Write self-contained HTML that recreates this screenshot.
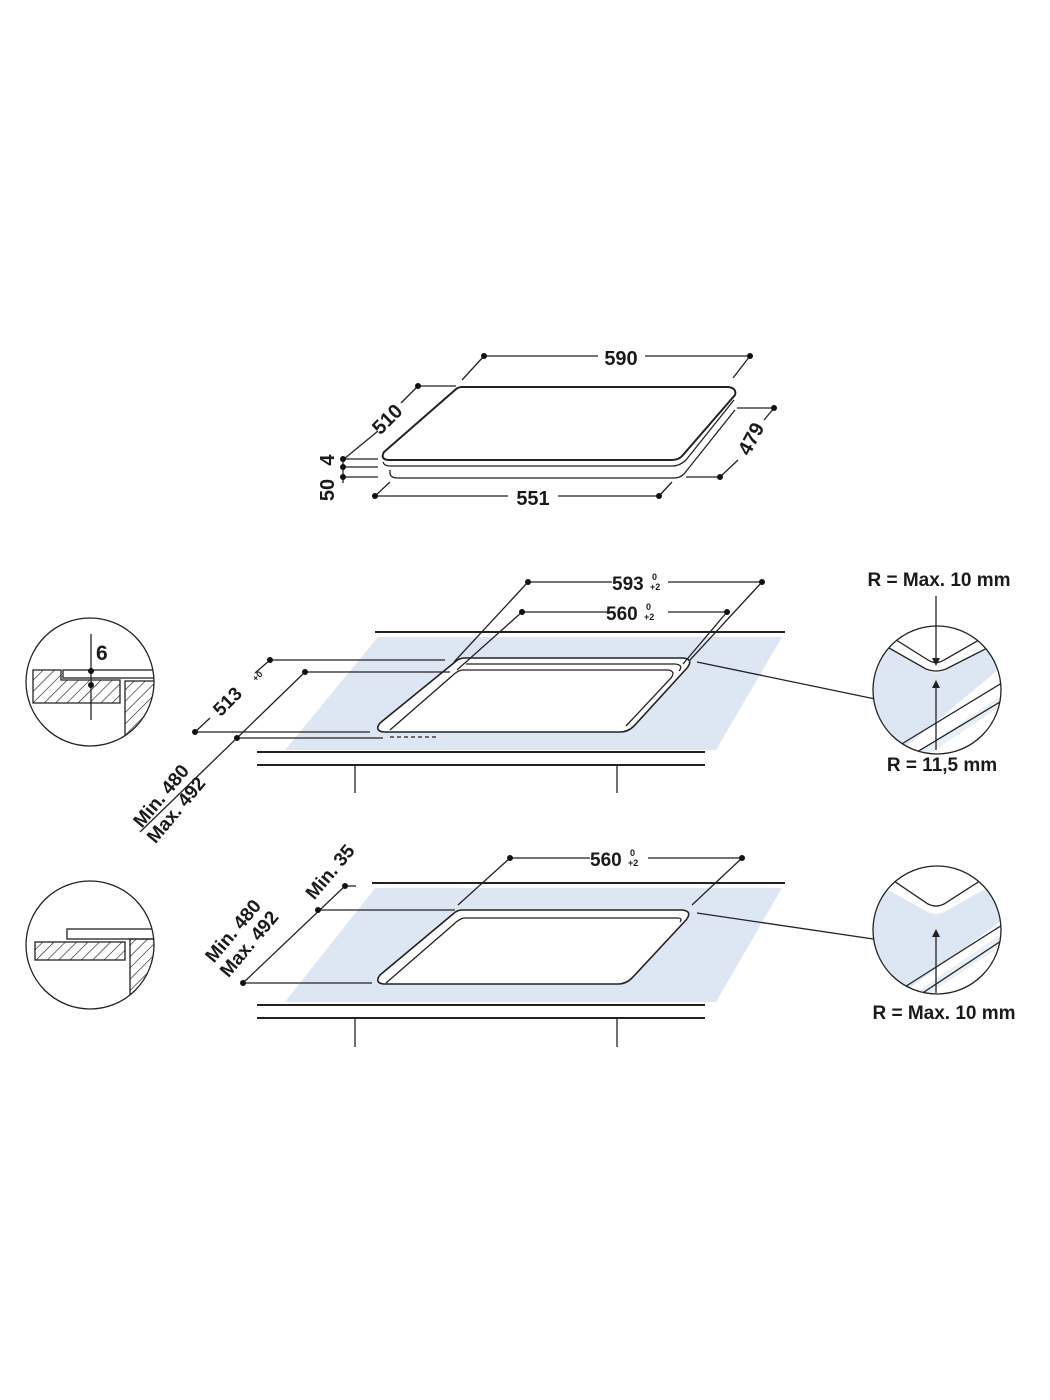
<!DOCTYPE html>
<html><head><meta charset="utf-8"><style>
html,body{margin:0;padding:0;background:#fff;}
svg{display:block;}
text{font-family:"Liberation Sans",Arial,sans-serif;font-weight:bold;fill:#1a1a1a;}
</style></head><body>
<svg width="1050" height="1400" viewBox="0 0 1050 1400" xmlns="http://www.w3.org/2000/svg">
<defs>
<pattern id="h" width="8" height="8" patternUnits="userSpaceOnUse" patternTransform="rotate(45)">
<line x1="0" y1="0" x2="0" y2="8" stroke="#222" stroke-width="1.3"/></pattern>
<clipPath id="c1"><circle cx="90" cy="682" r="64"/></clipPath>
<clipPath id="c2"><circle cx="90" cy="945" r="64"/></clipPath>
<clipPath id="c3"><circle cx="937" cy="690" r="64"/></clipPath>
<clipPath id="c4"><circle cx="937" cy="930" r="64"/></clipPath>
</defs>
<g stroke="#222" stroke-width="1.3" fill="none">
<!-- TOP HOB -->
<path d="M462,387 L728,387 Q737,388 735,395 L683,455 Q679,460 672,460 L388,460 Q380,459 384,452 L455,390 Q458,387 462,387 Z" stroke-width="2"/>
<path d="M383,462 Q384,466 390,466 L672,466 Q680,466 686,460 L734,400"/>
<path d="M390,470 L390,474 Q391,478 398,478 L674,478 Q680,478 684,474 L735,410"/>
<line x1="484" y1="356" x2="598" y2="356"/><line x1="645" y1="356" x2="750" y2="356"/>
<line x1="484" y1="356" x2="462" y2="380"/><line x1="750" y1="356" x2="733" y2="378"/>
<line x1="418" y1="386" x2="456" y2="386"/>
<line x1="418" y1="386" x2="401" y2="403"/><line x1="378" y1="431" x2="344" y2="459"/>
<line x1="343" y1="459" x2="343" y2="483"/>
<line x1="343" y1="459" x2="378" y2="459"/><line x1="343" y1="467" x2="378" y2="467"/><line x1="343" y1="477" x2="378" y2="477"/>
<line x1="375" y1="496" x2="508" y2="496"/><line x1="558" y1="496" x2="659" y2="496"/>
<line x1="375" y1="496" x2="390" y2="482"/><line x1="659" y1="496" x2="672" y2="482"/>
<line x1="737" y1="408" x2="774" y2="408"/><line x1="774" y1="408" x2="764" y2="420"/>
<line x1="738" y1="460" x2="720" y2="477"/><line x1="686" y1="477" x2="720" y2="477"/>

<!-- MIDDLE -->
<polygon points="378,637 782,637 716,750 285,750" fill="#dde7f3" stroke="none"/>
<line x1="375" y1="632" x2="785" y2="632" stroke-width="2"/>
<line x1="257" y1="752" x2="705" y2="752" stroke-width="2"/>
<line x1="257" y1="765" x2="705" y2="765" stroke-width="2"/>
<line x1="355" y1="765" x2="355" y2="793"/><line x1="617" y1="765" x2="617" y2="793"/>
<path d="M465,658 L683,658 Q694,659 687,668 L634,726 Q628,732 620,732 L384,732 Q374,731 380,723 L455,662 Q459,658 465,658 Z" fill="#fff" stroke-width="1.6"/>
<path d="M466,664 L675,664 Q684,665 679,671" />
<path d="M462,670 L668,670 Q676,671 671,678 L626,726"/>
<path d="M462,670 Q457,671 452,676 L390,730"/>
<line x1="390" y1="737" x2="436" y2="737" stroke-dasharray="4,3"/>
<line x1="528" y1="582" x2="612" y2="582"/><line x1="668" y1="582" x2="762" y2="582"/>
<line x1="528" y1="582" x2="454" y2="662"/><line x1="762" y1="582" x2="690" y2="660"/>
<line x1="522" y1="612" x2="608" y2="612"/><line x1="668" y1="612" x2="727" y2="612"/>
<line x1="522" y1="612" x2="457" y2="670"/><line x1="727" y1="612" x2="683" y2="664"/>
<line x1="270" y1="660" x2="445" y2="660"/><line x1="195" y1="732" x2="370" y2="732"/>
<line x1="270" y1="660" x2="255" y2="673"/><line x1="210" y1="718" x2="195" y2="732"/>
<line x1="305" y1="672" x2="450" y2="672"/><line x1="237" y1="738" x2="383" y2="738"/>
<line x1="305" y1="672" x2="140" y2="832"/>
<line x1="697" y1="662" x2="880" y2="700"/>

<!-- BOTTOM -->
<polygon points="375,888 782,888 716,1002 285,1002" fill="#dde7f3" stroke="none"/>
<line x1="372" y1="883" x2="785" y2="883" stroke-width="2"/>
<line x1="345" y1="886" x2="356" y2="886"/>
<line x1="318" y1="910" x2="455" y2="910"/>
<line x1="257" y1="1005" x2="705" y2="1005" stroke-width="2"/>
<line x1="257" y1="1018" x2="705" y2="1018" stroke-width="2"/>
<line x1="355" y1="1018" x2="355" y2="1047"/><line x1="617" y1="1018" x2="617" y2="1047"/>
<path d="M462,910 L682,910 Q693,911 686,920 L632,978 Q626,984 618,984 L384,984 Q374,983 380,975 L453,914 Q457,910 462,910 Z" fill="#fff" stroke-width="1.6"/>
<path d="M464,918 L677,918 Q683,918 680,922"/>
<path d="M464,918 Q459,919 454,924 L386,983"/>
<line x1="243" y1="983" x2="372" y2="983"/>
<line x1="345" y1="886" x2="243" y2="983"/>
<line x1="510" y1="858" x2="590" y2="858"/><line x1="648" y1="858" x2="742" y2="858"/>
<line x1="510" y1="858" x2="458" y2="905"/><line x1="742" y1="858" x2="692" y2="905"/>
<line x1="697" y1="913" x2="880" y2="940"/>

<!-- LEFT CIRCLE 1 -->
<g clip-path="url(#c1)">
<rect x="63" y="670" width="100" height="8"/>
<path d="M33,670 L61,670 L61,680 L120,680 L120,703 L33,703 Z" fill="url(#h)"/>
<path d="M125,681 L160,681 L160,760 L125,760 Z" fill="url(#h)"/>
<line x1="91" y1="634" x2="91" y2="720"/>
</g>
<circle cx="90" cy="682" r="64"/>
<!-- LEFT CIRCLE 2 -->
<g clip-path="url(#c2)">
<rect x="67" y="929" width="100" height="10"/>
<rect x="35" y="942" width="90" height="18" fill="url(#h)"/>
<path d="M130,939 L160,939 L160,1010 L130,1010 Z" fill="url(#h)"/>
</g>
<circle cx="90" cy="945" r="64"/>
<!-- RIGHT CIRCLE 1 -->
<g clip-path="url(#c3)">
<path d="M860,640 L880,640 L926,670 Q936,675 946,670 L1010,636 L1010,660 L890,760 L860,760 Z" fill="#dde7f3" stroke="none"/>
<path d="M1010,690 L1010,700 L920,760 L905,760 Z" fill="#e9eff7" stroke="none"/>
<path d="M885,633 L928,660 Q936,665 944,660 L1000,628"/>
<path d="M875,640 L926,669 Q936,673 946,669 L1003,640"/>
<path d="M900,745 L1010,678"/><path d="M912,755 L1010,696"/>
</g>
<circle cx="937" cy="690" r="64"/>
<line x1="936" y1="596" x2="936" y2="660"/>
<line x1="936" y1="684" x2="936" y2="750"/>
<!-- RIGHT CIRCLE 2 -->
<g clip-path="url(#c4)">
<path d="M870,880 L928,912 Q936,916 944,912 L1010,875 L1010,915 L900,995 L860,995 Z" fill="#dde7f3" stroke="none"/>
<path d="M1010,928 L1010,940 L920,1000 L905,1000 Z" fill="#e9eff7" stroke="none"/>
<path d="M885,875 L928,904 Q936,908 944,904 L1000,868"/>
<path d="M900,990 L1010,920"/><path d="M912,1000 L1010,935"/>
</g>
<circle cx="937" cy="930" r="64"/>
<line x1="936" y1="935" x2="936" y2="993"/>
</g>
<g fill="#222">
<polygon points="932,658 940,658 936,666"/>
<polygon points="932,688 940,688 936,680"/>
<polygon points="932,937 940,937 936,929"/>
</g>
<g fill="#111">
<circle cx="484" cy="356" r="3"/><circle cx="750" cy="356" r="3"/>
<circle cx="418" cy="386" r="3"/>
<circle cx="343" cy="459" r="3"/><circle cx="343" cy="467" r="3"/><circle cx="343" cy="477" r="3"/>
<circle cx="375" cy="496" r="3"/><circle cx="659" cy="496" r="3"/>
<circle cx="774" cy="408" r="3"/><circle cx="720" cy="477" r="3"/>
<circle cx="528" cy="582" r="3"/><circle cx="762" cy="582" r="3"/>
<circle cx="522" cy="612" r="3"/><circle cx="727" cy="612" r="3"/>
<circle cx="270" cy="660" r="3"/><circle cx="195" cy="732" r="3"/>
<circle cx="305" cy="672" r="3"/><circle cx="237" cy="738" r="3"/>
<circle cx="510" cy="858" r="3"/><circle cx="742" cy="858" r="3"/>
<circle cx="345" cy="886" r="3"/><circle cx="318" cy="910" r="3"/><circle cx="243" cy="983" r="3"/>
<circle cx="91" cy="671" r="3"/><circle cx="91" cy="685" r="3"/>
</g>
<text x="621" y="365" font-size="20" text-anchor="middle">590</text>
<text x="533" y="505" font-size="20" text-anchor="middle">551</text>
<text transform="translate(392,424) rotate(-45)" font-size="20" text-anchor="middle">510</text>
<text transform="translate(757,442) rotate(-62)" font-size="20" text-anchor="middle">479</text>
<text transform="translate(334,460) rotate(-90)" font-size="20" text-anchor="middle">4</text>
<text transform="translate(334,490) rotate(-90)" font-size="20" text-anchor="middle">50</text>
<text x="612" y="590" font-size="19">593</text><text x="652" y="580" font-size="9">0</text><text x="650" y="590" font-size="9">+2</text>
<text x="606" y="620" font-size="19">560</text><text x="646" y="610" font-size="9">0</text><text x="644" y="620" font-size="9">+2</text>
<text x="590" y="866" font-size="19">560</text><text x="630" y="856" font-size="9">0</text><text x="628" y="866" font-size="9">+2</text>
<text transform="translate(232,706) rotate(-45)" font-size="19" text-anchor="middle">513</text>
<text transform="translate(256,682) rotate(-45)" font-size="9">+0</text>
<text transform="translate(166,800) rotate(-50)" font-size="19" text-anchor="middle">Min. 480</text>
<text transform="translate(181,814) rotate(-50)" font-size="19" text-anchor="middle">Max. 492</text>
<text transform="translate(238,935) rotate(-50)" font-size="19" text-anchor="middle">Min. 480</text>
<text transform="translate(254,948) rotate(-50)" font-size="19" text-anchor="middle">Max. 492</text>
<text transform="translate(335,876) rotate(-50)" font-size="19" text-anchor="middle">Min. 35</text>
<text x="96" y="660" font-size="21">6</text>
<text x="939" y="586" font-size="19" text-anchor="middle">R = Max. 10 mm</text>
<text x="942" y="771" font-size="19" text-anchor="middle">R = 11,5 mm</text>
<text x="944" y="1019" font-size="19" text-anchor="middle">R = Max. 10 mm</text>
</svg>
</body></html>
